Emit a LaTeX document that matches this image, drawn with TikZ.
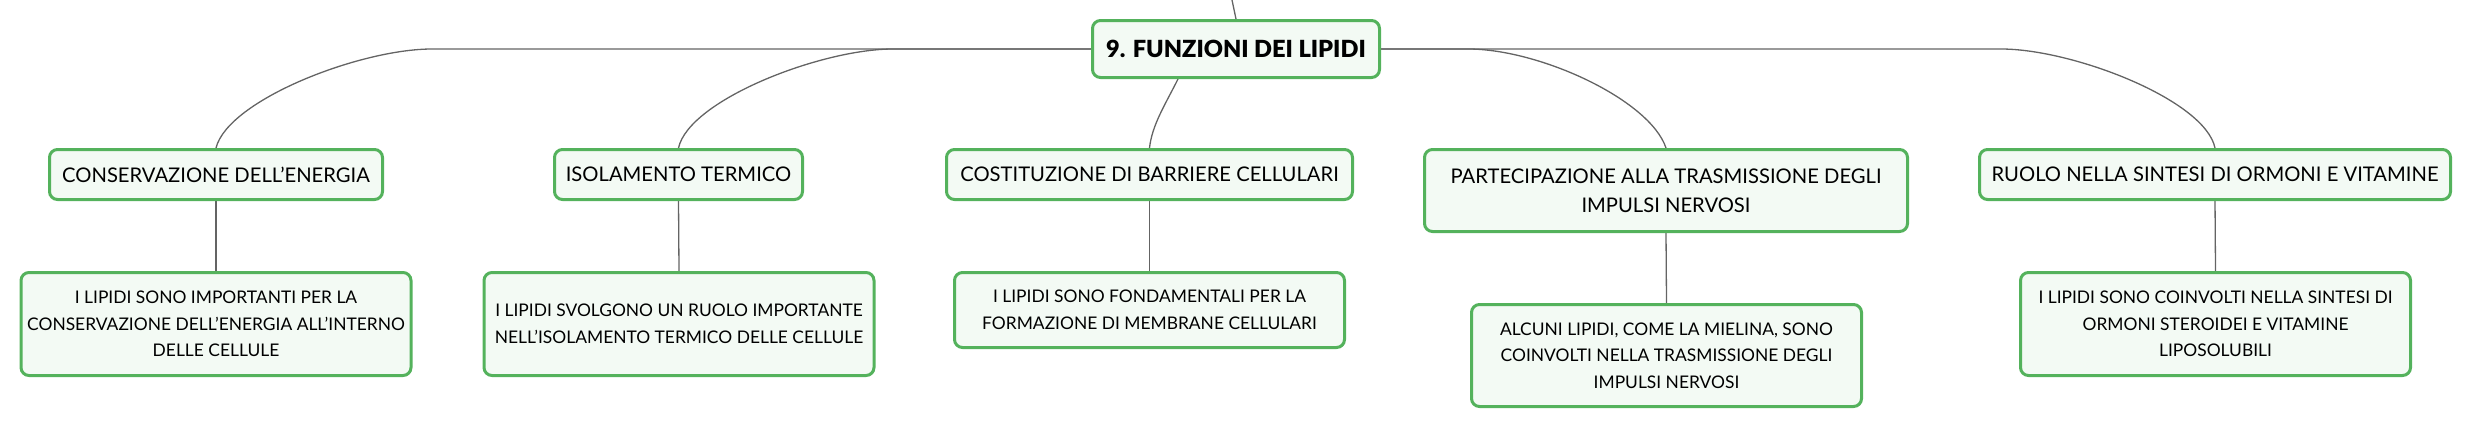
\documentclass[tikz,border=0pt]{standalone}
\usepackage{fontspec}
\usetikzlibrary{backgrounds}
\setmainfont{Lato}
\newfontfamily\heavyfont{Lato Black}
\definecolor{bordergreen}{RGB}{84,178,92}
\definecolor{fillgreen}{RGB}{243,250,244}
\definecolor{linkgray}{RGB}{100,100,100}
\begin{document}
\begin{tikzpicture}[x=0.5pt,y=-0.5pt,
  box/.style={draw=bordergreen, fill=fillgreen, line width=1.5pt, rounded corners=4pt, align=center, inner sep=0pt},
  rootbox/.style={box, font=\heavyfont\fontsize{11.8}{14}\selectfont},
  topicbox/.style={box, minimum height=25pt, font=\fontsize{10.1}{14.5}\selectfont},
  leafbox/.style={box, minimum width=195pt, font=\fontsize{8.7}{13.25}\selectfont},
  link/.style={draw=linkgray, line width=0.65pt}]
\useasboundingbox (0,0) rectangle (2473,429);

\node[rootbox, minimum width=143.5pt, minimum height=28.5pt] (ctr) at (1236,49) {9. FUNZIONI DEI LIPIDI};

\node[topicbox, minimum width=166.5pt] (n1) at (216,174.5) {CONSERVAZIONE DELL'ENERGIA};
\node[topicbox, minimum width=124pt] (n2) at (678.5,174.5) {ISOLAMENTO TERMICO};
\node[topicbox, minimum width=203pt] (n3) at (1149.5,174.5) {COSTITUZIONE DI BARRIERE CELLULARI};
\node[topicbox, minimum width=241.5pt, minimum height=41pt] (n4) at (1666,190.5) {PARTECIPAZIONE ALLA TRASMISSIONE DEGLI\\IMPULSI NERVOSI};
\node[topicbox, minimum width=235.5pt] (n5) at (2215,174.5) {RUOLO NELLA SINTESI DI ORMONI E VITAMINE};

\node[leafbox, minimum height=51.5pt] (c1) at (216,324) {I LIPIDI SONO IMPORTANTI PER LA\\CONSERVAZIONE DELL'ENERGIA ALL'INTERNO\\DELLE CELLULE};
\node[leafbox, minimum height=51.5pt] (c2) at (679,324) {I LIPIDI SVOLGONO UN RUOLO IMPORTANTE\\NELL'ISOLAMENTO TERMICO DELLE CELLULE};
\node[leafbox, minimum height=37.5pt] (c3) at (1149.5,310) {I LIPIDI SONO FONDAMENTALI PER LA\\FORMAZIONE DI MEMBRANE CELLULARI};
\node[leafbox, minimum height=51pt] (c4) at (1666.5,355.5) {ALCUNI LIPIDI, COME LA MIELINA, SONO\\COINVOLTI NELLA TRASMISSIONE DEGLI\\IMPULSI NERVOSI};
\node[leafbox, minimum height=51.5pt] (c5) at (2215.5,324) {I LIPIDI SONO COINVOLTI NELLA SINTESI DI\\ORMONI STEROIDEI E VITAMINE\\LIPOSOLUBILI};

\coordinate (up) at (1232,0);
\coordinate (s1) at (432,49);
\coordinate (s2) at (893,49);
\coordinate (s4) at (1468,49);
\coordinate (s5) at (2001,49);

\begin{scope}[on background layer]
\path[link] (up) .. controls (1234,10) .. (ctr.north);
\path[link] (ctr.west) -- (s1) .. controls (360,49) and (228,100) .. (n1.north);
\path[link] (ctr.west) -- (s2) .. controls (821,49) and (689,100) .. (n2.north);
\path[link] ([xshift=-29pt]ctr.south) .. controls (1165,105) and (1152,125) .. (n3.north);
\path[link] (ctr.east) -- (s4) .. controls (1540,49) and (1650,100) .. (n4.north);
\path[link] (ctr.east) -- (s5) .. controls (2073,49) and (2205,100) .. (n5.north);
\path[link] (n1.south) -- (c1.north);
\path[link] (n2.south) -- (c2.north);
\path[link] (n3.south) -- (c3.north);
\path[link] (n4.south) -- (c4.north);
\path[link] (n5.south) -- (c5.north);
\end{scope}
\end{tikzpicture}
\end{document}
